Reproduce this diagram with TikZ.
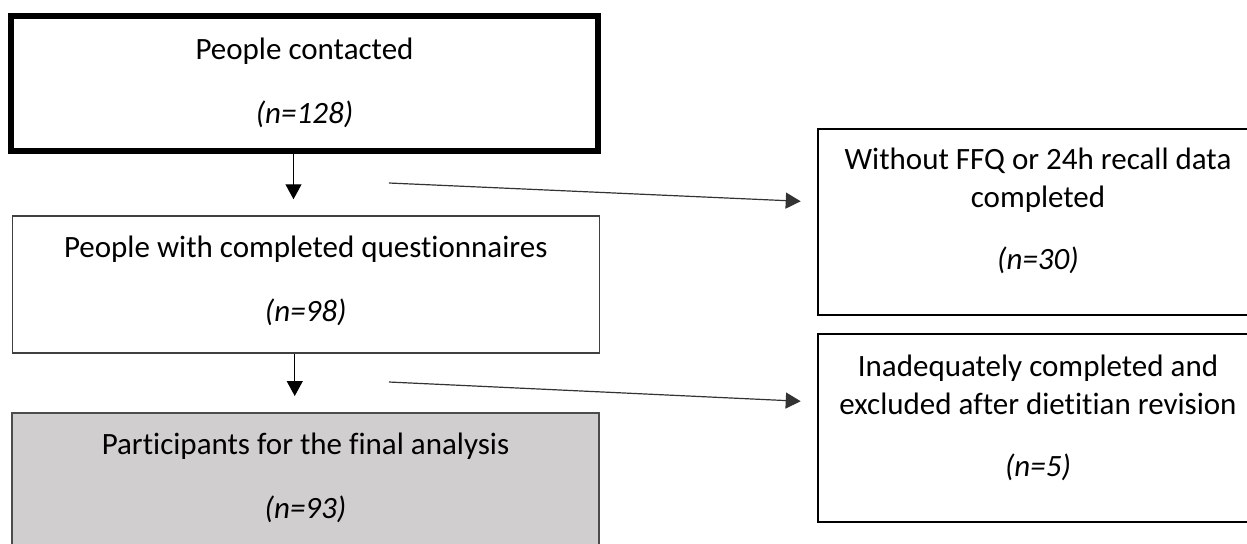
\documentclass[tikz,border=0pt]{standalone}
\usepackage{fontspec}
\setmainfont{Carlito}[Ligatures=NoCommon]
\usetikzlibrary{arrows.meta}

\definecolor{finalgray}{HTML}{D0CECE}

\tikzset{
  box/.style={draw, inner sep=0pt, minimum width=293.5pt},
  sidebox/.style={draw, line width=1.3pt, inner sep=0pt, minimum width=220pt, minimum height=93pt},
  txt/.style={align=center, inner sep=0pt, font=\fontsize{15.5}{19}\selectfont},
  flow/.style={-{Triangle[length=7.5pt,width=8pt]}, line width=0.6pt, shorten >=8pt},
}

\begin{document}
\begin{tikzpicture}[x=0.5pt,y=-0.5pt]
\useasboundingbox (0,0) rectangle (1247,543);

% left column
\node[box, line width=3pt, minimum height=67.5pt] (contact) at (304.5,83.5) {};
\node[txt] (contacttxt) at (304.5,82.5) {People contacted\\[13pt]\textit{(n=128)}};

\node[box, draw=black!75, line width=0.75pt, minimum height=68.5pt] (quest) at (305.75,284.5) {};
\node[txt] (questtxt) at (305.75,280.5) {People with completed questionnaires\\[13pt]\textit{(n=98)}};

\node[box, draw=black!70, fill=finalgray, line width=1pt, minimum height=78.5pt] (final) at (305.5,491.5) {};
\node[txt] (finaltxt) at (305.5,477.5) {Participants for the final analysis\\[13pt]\textit{(n=93)}};

% excluded
\node[sidebox] (nodata) at (1038,222) {};
\node[txt] (nodatatxt) at (1038,210.5) {Without FFQ or 24h recall data\\completed\\[12pt]\textit{(n=30)}};

\node[sidebox, minimum height=94pt] (revised) at (1038,428) {};
\node[txt] (revisedtxt) at (1038,417.5) {Inadequately completed and\\excluded after dietitian revision\\[12pt]\textit{(n=5)}};

% arrows
\draw[flow] ([xshift=-5.5pt]contact.south) -- ([xshift=-5.5pt]contact.south |- quest.north);
\draw[flow] ([xshift=-5.5pt]quest.south) -- ([xshift=-5.5pt]quest.south |- final.north);

\coordinate (split1) at (389,183);
\coordinate (split2) at (389,382);
\draw[flow, draw=black!80] (split1) -- ([yshift=10pt]nodata.west);
\draw[flow, draw=black!80] (split2) -- ([yshift=13pt]revised.west);

\end{tikzpicture}
\end{document}
